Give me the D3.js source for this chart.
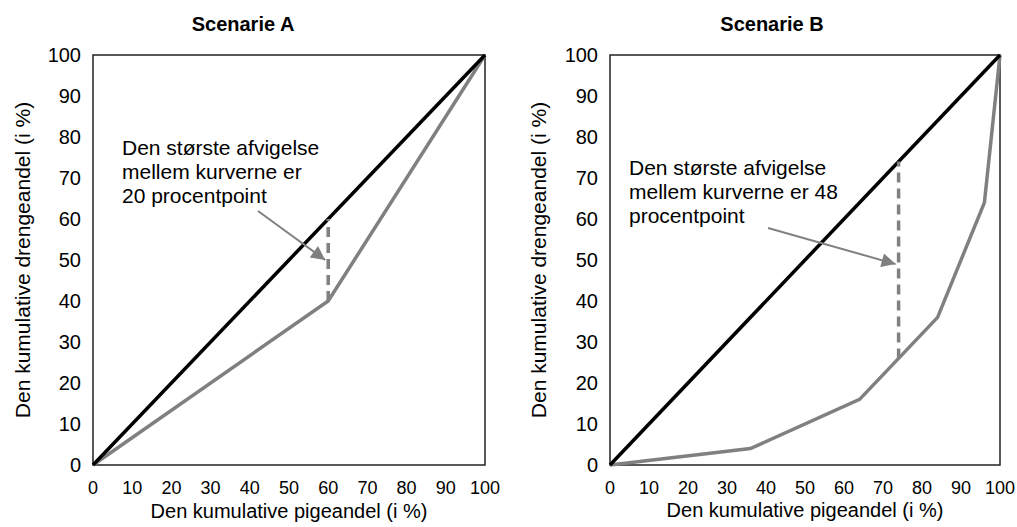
<!DOCTYPE html>
<html><head><meta charset="utf-8">
<script src="https://d3js.org/d3.v7.min.js"></script>
<style>body{margin:0;background:#fff;font-family:Arial,"Liberation Sans",sans-serif;}</style>
</head><body><div id="chart"></div>
<script>
const ticks = [0,10,20,30,40,50,60,70,80,90,100];
const equality = [[0,0],[100,100]];
const curveA = [[0,0],[60,40],[100,100]];
const curveB = [[0,0],[36,4],[64,16],[84,36],[96,64],[100,100]];
const gapA = {x:60, y0:40, y1:60};
const gapB = {x:74, y0:26, y1:74};
const noteA = ["Den største afvigelse","mellem kurverne er","20 procentpoint"];
const noteB = ["Den største afvigelse","mellem kurverne er 48","procentpoint"];

const svg = d3.select("#chart").append("svg").attr("width",1017).attr("height",527);
svg.append("defs").append("marker").attr("id","arr").attr("viewBox","0 -5 10 10")
  .attr("refX",10).attr("refY",0).attr("markerUnits","userSpaceOnUse")
  .attr("markerWidth",16).attr("markerHeight",14).attr("orient","auto")
  .append("path").attr("d","M0,-5L10,0L0,5Z").attr("fill","#808080");

function panel(o){
  const x = d3.scaleLinear().domain([0,100]).range([o.left,o.right]);
  const y = d3.scaleLinear().domain([0,100]).range([465,55]);
  const g = svg.append("g");
  g.append("text").attr("x",o.titleX).attr("y",31).attr("text-anchor","middle")
    .attr("font-weight","bold").attr("font-size",20).text(o.title);
  g.append("rect").attr("x",x(0)).attr("y",y(100)).attr("width",x(100)-x(0)).attr("height",y(0)-y(100))
    .attr("fill","none").attr("stroke","#222").attr("stroke-width",1.5);
  g.selectAll(".yt").data(ticks).join("text").attr("x",x(0)-12).attr("y",d=>y(d)+7)
    .attr("text-anchor","end").attr("font-size",20).text(d=>d);
  g.selectAll(".xt").data(ticks).join("text").attr("x",d=>x(d)).attr("y",494)
    .attr("text-anchor","middle").attr("font-size",18).text(d=>d);
  g.append("text").attr("transform",`translate(${o.ylabX},${y(50)}) rotate(-90)`)
    .attr("text-anchor","middle").attr("font-size",21).text("Den kumulative drengeandel (i %)");
  g.append("text").attr("x",(x(0)+x(100))/2).attr("y",o.xlabY).attr("text-anchor","middle")
    .attr("font-size",20).text("Den kumulative pigeandel (i %)");
  const line = d3.line().x(d=>x(d[0])).y(d=>y(d[1]));
  g.append("path").attr("d",line(o.curve)).attr("fill","none").attr("stroke","#808080").attr("stroke-width",3.5);
  g.append("path").attr("d",line(equality)).attr("fill","none").attr("stroke","#000").attr("stroke-width",3.5);
  g.append("line").attr("x1",x(o.gap.x)).attr("x2",x(o.gap.x)).attr("y1",y(o.gap.y0)).attr("y2",y(o.gap.y1))
    .attr("stroke","#808080").attr("stroke-width",3.5).attr("stroke-dasharray","10,6");
  g.selectAll(".nt").data(o.note).join("text").attr("x",o.noteX).attr("y",(d,i)=>o.noteY+i*24)
    .attr("font-size",21).text(d=>d);
  g.append("line").attr("x1",o.arrow[0]).attr("y1",o.arrow[1]).attr("x2",x(o.gap.x)-3).attr("y2",y(o.arrow[2]))
    .attr("stroke","#808080").attr("stroke-width",2).attr("marker-end","url(#arr)");
}
panel({left:93,right:485,title:"Scenarie A",titleX:243,ylabX:30,xlabY:518,curve:curveA,gap:gapA,
  note:noteA,noteX:122,noteY:155,arrow:[258,211,50]});
panel({left:610,right:1000,title:"Scenarie B",titleX:772,ylabX:546,xlabY:517,curve:curveB,gap:gapB,
  note:noteB,noteX:629,noteY:175,arrow:[768,228,49]});
</script></body></html>
